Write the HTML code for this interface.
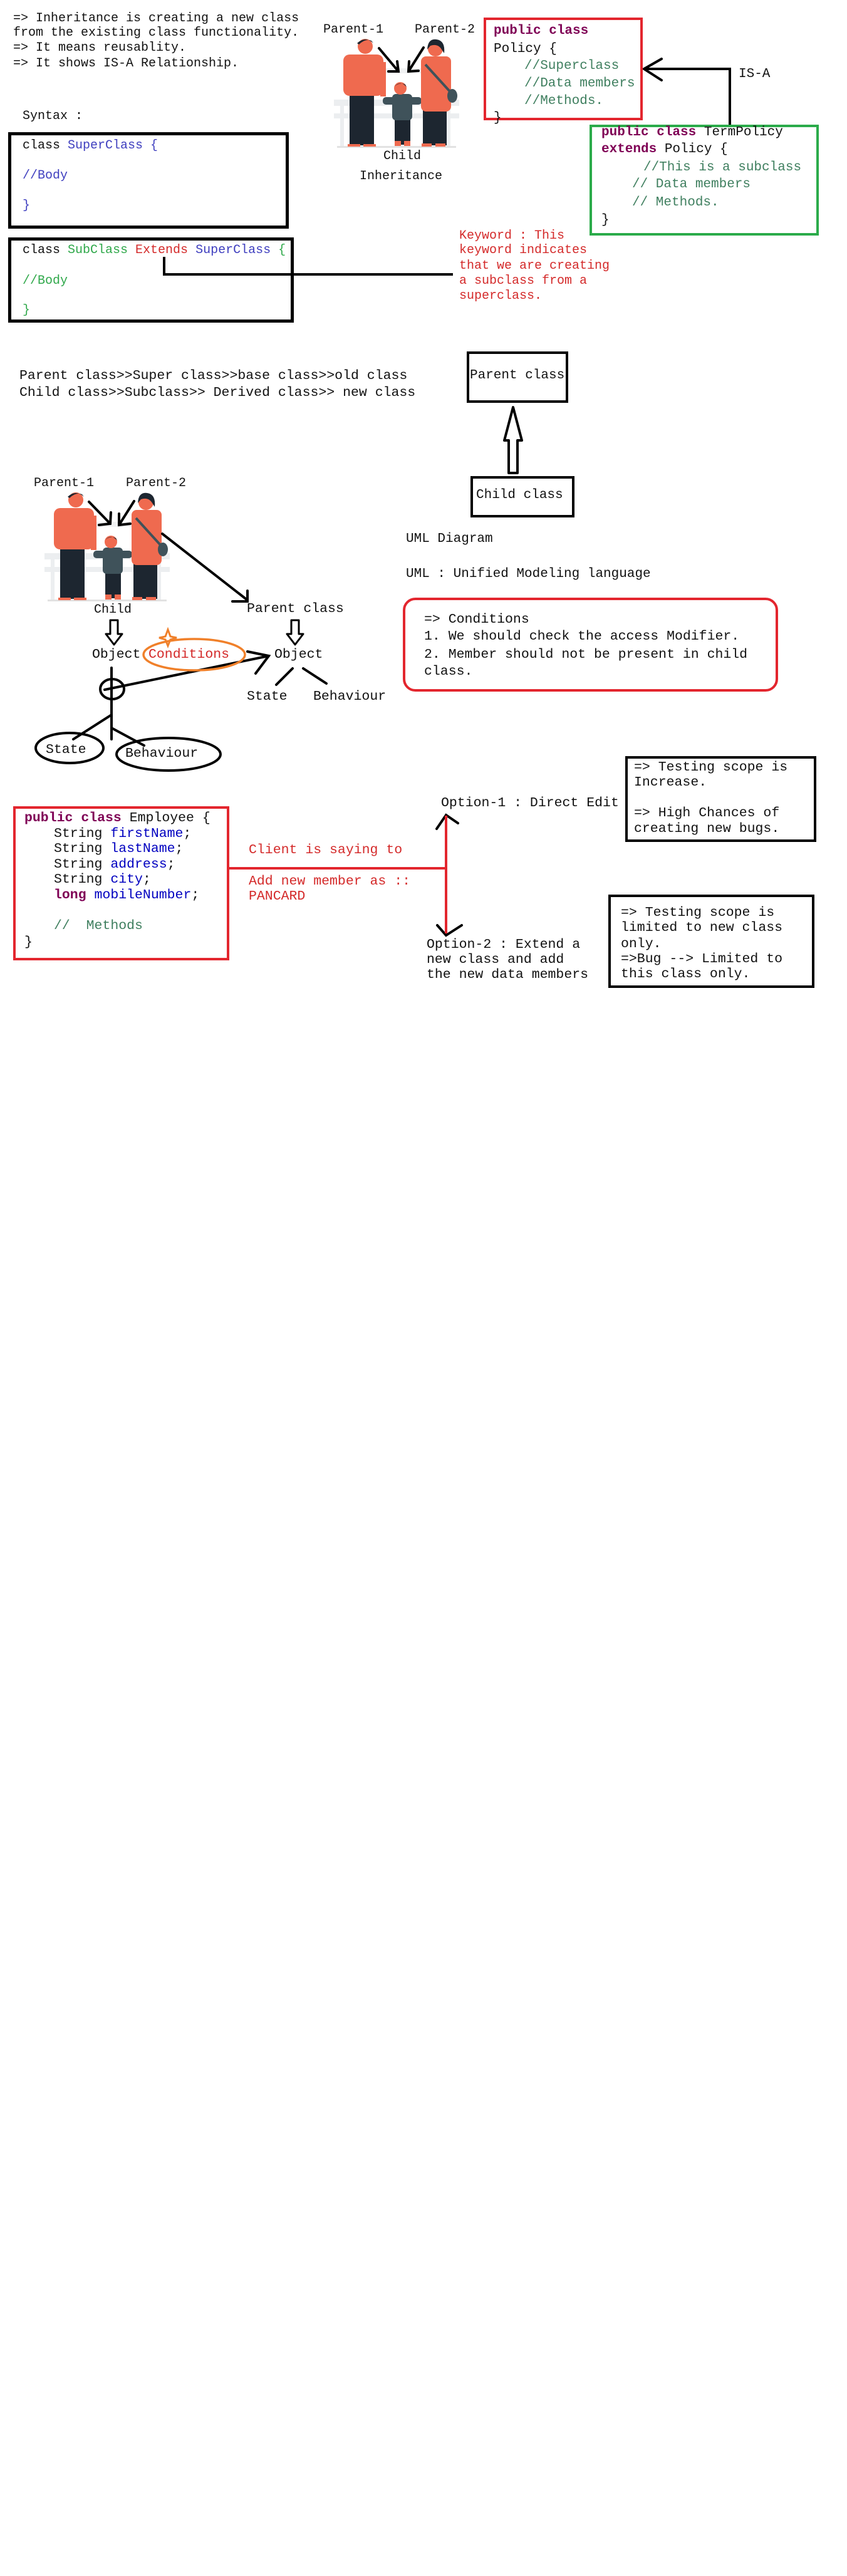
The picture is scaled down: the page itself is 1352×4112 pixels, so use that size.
<!DOCTYPE html>
<html><head><meta charset="utf-8">
<style>
html,body{margin:0;padding:0;background:#fff;}
body{width:1352px;height:4112px;position:relative;overflow:hidden;font-family:"Liberation Mono","DejaVu Sans Mono",monospace;color:#111;}
.t{position:absolute;white-space:pre;line-height:24px;font-size:20px;}
.m{font-size:21.5px;}
.box{position:absolute;box-sizing:border-box;}
.kw{color:#7f0055;font-weight:bold;}
.cm{color:#3f7f5f;}
.bl{color:#3f3fbf;}
.fd{color:#0000c0;}
.rd{color:#d42a2a;}
.gn{color:#2fa84a;}
svg{position:absolute;left:0;top:0;}
</style></head><body>

<svg width="1352" height="1700" viewBox="0 0 1352 1700">
<defs>
<g id="fam">
 <rect x="0" y="100" width="200" height="10" fill="#eceef0"/>
 <rect x="0" y="122" width="200" height="8" fill="#eceef0"/>
 <rect x="10" y="110" width="6" height="64" fill="#eceef0"/>
 <rect x="180" y="110" width="6" height="64" fill="#eceef0"/>
 <rect x="60" y="50" width="80" height="8" fill="#f1f2f3"/>
 <rect x="5" y="174" width="190" height="3" fill="#e2e2e2"/>
 <!-- man -->
 <rect x="25" y="93" width="39" height="80" fill="#1d2630"/>
 <rect x="15" y="28" width="64" height="66" rx="10" fill="#ef6a4f"/>
 <rect x="74" y="40" width="9" height="55" fill="#ef6a4f"/>
 <circle cx="50" cy="15" r="12" fill="#ef6a4f"/>
 <path d="M37 10 Q50 -2 63 10 L60 6 Q50 2 40 12Z" fill="#1d2630"/>
 <rect x="22" y="171" width="20" height="4" fill="#ef6a4f"/><rect x="47" y="171" width="20" height="4" fill="#ef6a4f"/>
 <!-- child -->
 <rect x="97" y="130" width="25" height="42" fill="#1d2630"/>
 <rect x="93" y="91" width="32" height="42" rx="6" fill="#3f525a"/>
 <rect x="78" y="96" width="62" height="12" rx="5" fill="#3f525a"/>
 <circle cx="106" cy="82" r="10" fill="#ef6a4f"/>
 <path d="M96 80 Q106 68 116 80 L114 76 Q106 72 98 78Z" fill="#1d2630"/>
 <rect x="97" y="166" width="10" height="8" fill="#ef6a4f"/><rect x="112" y="166" width="10" height="8" fill="#ef6a4f"/>
 <!-- woman -->
 <rect x="142" y="116" width="38" height="57" fill="#1d2630"/>
 <rect x="139" y="31" width="48" height="88" rx="8" fill="#ef6a4f"/>
 <circle cx="162" cy="19" r="12" fill="#ef6a4f"/>
 <path d="M149 20 Q150 2 164 4 Q178 6 176 26 L172 20 Q166 10 154 14Z" fill="#1d2630"/>
 <line x1="146" y1="44" x2="186" y2="88" stroke="#3f525a" stroke-width="4"/>
 <ellipse cx="189" cy="94" rx="8" ry="11" fill="#3f525a"/>
 <rect x="140" y="170" width="16" height="5" fill="#ef6a4f"/><rect x="162" y="170" width="16" height="5" fill="#ef6a4f"/>
</g>
</defs>

<use href="#fam" x="533" y="59"/>
<use href="#fam" x="71" y="783"/>

<g stroke="#000" stroke-width="4" fill="none" stroke-linecap="round">
 <!-- top image arrows -->
 <line x1="605" y1="77" x2="636" y2="114"/><polyline points="620,114 636,114 634,98"/>
 <line x1="676" y1="76" x2="652" y2="114"/><polyline points="653,98 652,114 668,113"/>
 <!-- extends connector -->
 <polyline points="262,410 262,438 723,438" stroke-linecap="butt"/>
 <!-- IS-A -->
 <polyline points="1165,199 1165,110 1028,110" stroke-linecap="butt"/>
 <polyline points="1056,94 1028,110 1056,128"/>
 <!-- second image arrows -->
 <line x1="142" y1="801" x2="176" y2="836"/><polyline points="158,838 176,836 177,818"/>
 <line x1="214" y1="800" x2="190" y2="838"/><polyline points="190,820 190,838 208,836"/>
 <line x1="259" y1="852" x2="395" y2="958"/><polyline points="371,960 395,960 395,943"/>
 <!-- hollow down arrows -->
 <path d="M176 990 H188 V1012 H195 L182 1029 L169 1012 H176 Z" stroke-width="3" stroke-linejoin="round"/>
 <path d="M465 990 H477 V1012 H484 L471 1029 L458 1012 H465 Z" stroke-width="3" stroke-linejoin="round"/>
 <!-- stick figure -->
 <line x1="178" y1="1066" x2="178" y2="1180"/>
 <ellipse cx="179" cy="1100" rx="19" ry="16"/>
 <line x1="167" y1="1101" x2="429" y2="1047"/>
 <polyline points="395,1040 429,1047 408,1075"/>
 <line x1="178" y1="1141" x2="117" y2="1180"/>
 <line x1="178" y1="1162" x2="230" y2="1190"/>
 <ellipse cx="111" cy="1194" rx="54" ry="24"/>
 <ellipse cx="269" cy="1204" rx="83" ry="26"/>
 <!-- right object branches -->
 <line x1="467" y1="1067" x2="441" y2="1093"/>
 <line x1="484" y1="1067" x2="521" y2="1091"/>
 <!-- UML hollow up arrow -->
 <path d="M819 650 L833 703 H826 V755 H812 V703 H805 Z" stroke-width="4" stroke-linejoin="round"/>
 <!-- option arrowheads -->
 <polyline points="697,1323 712,1301 731,1314"/>
 <polyline points="698,1477 712,1493 737,1477"/>
</g>
<!-- orange ellipse -->
<ellipse cx="310" cy="1045" rx="81" ry="25" fill="none" stroke="#f0802a" stroke-width="3.5"/>
<path d="M268 1005 L272 1016 L282 1018 L272 1021 L268 1031 L264 1021 L254 1018 L264 1016 Z" fill="none" stroke="#f0802a" stroke-width="3"/>
<!-- red connectors -->
<g stroke="#e3262e" stroke-width="4" fill="none">
 <line x1="366" y1="1386" x2="714" y2="1386"/>
 <line x1="712" y1="1302" x2="712" y2="1490"/>
</g>
</svg>

<!-- intro text -->
<div class="t" style="left:21px;top:18px;">=&gt; Inheritance is creating a new class</div>
<div class="t" style="left:21px;top:41px;">from the existing class functionality.</div>
<div class="t" style="left:21px;top:65px;">=&gt; It means reusablity.</div>
<div class="t" style="left:21px;top:90px;">=&gt; It shows IS-A Relationship.</div>

<div class="t" style="left:516px;top:36px;">Parent-1</div>
<div class="t" style="left:662px;top:36px;">Parent-2</div>
<div class="t" style="left:612px;top:238px;">Child</div>
<div class="t" style="left:574px;top:270px;">Inheritance</div>

<div class="t" style="left:36px;top:174px;">Syntax :</div>

<div class="box" style="left:13px;top:211px;width:448px;height:154px;border:5px solid #000;"></div>
<div class="t" style="left:36px;top:221px;">class <span class="bl">SuperClass {</span></div>
<div class="t bl" style="left:36px;top:269px;">//Body</div>
<div class="t bl" style="left:36px;top:317px;">}</div>

<div class="box" style="left:13px;top:379px;width:456px;height:136px;border:5px solid #000;"></div>
<div class="t" style="left:36px;top:388px;">class <span class="gn">SubClass</span> <span class="rd">Extends</span> <span class="bl">SuperClass</span> <span class="gn">{</span></div>
<div class="t gn" style="left:36px;top:437px;">//Body</div>
<div class="t gn" style="left:36px;top:484px;">}</div>

<!-- Policy red box -->
<div class="box" style="left:772px;top:28px;width:254px;height:164px;border:4px solid #e3262e;"></div>
<div class="t" style="left:788px;top:38px;font-size:21px;"><span class="kw">public class</span></div>
<div class="t" style="left:788px;top:67px;font-size:21px;">Policy {</div>
<div class="t cm" style="left:837px;top:94px;font-size:21px;">//Superclass</div>
<div class="t cm" style="left:837px;top:122px;font-size:21px;">//Data members</div>
<div class="t cm" style="left:837px;top:150px;font-size:21px;">//Methods.</div>
<div class="t" style="left:788px;top:177px;font-size:21px;">}</div>
<div class="t" style="left:1179px;top:107px;font-size:21px;">IS-A</div>

<!-- TermPolicy green box -->
<div class="box" style="left:941px;top:199px;width:366px;height:177px;border:4px solid #2bab4a;"></div>
<div class="t" style="left:960px;top:200px;font-size:21px;"><span class="kw">public class</span> TermPolicy</div>
<div class="t" style="left:960px;top:227px;font-size:21px;"><span class="kw">extends</span> Policy {</div>
<div class="t cm" style="left:1027px;top:256px;font-size:21px;">//This is a subclass</div>
<div class="t cm" style="left:1009px;top:283px;font-size:21px;">// Data members</div>
<div class="t cm" style="left:1009px;top:312px;font-size:21px;">// Methods.</div>
<div class="t" style="left:960px;top:340px;font-size:21px;">}</div>

<!-- keyword note -->
<div class="t rd" style="left:733px;top:365px;">Keyword : This</div>
<div class="t rd" style="left:733px;top:388px;">keyword indicates</div>
<div class="t rd" style="left:733px;top:413px;">that we are creating</div>
<div class="t rd" style="left:733px;top:437px;">a subclass from a</div>
<div class="t rd" style="left:733px;top:461px;">superclass.</div>

<!-- parent/child names -->
<div class="t m" style="left:31px;top:588px;">Parent class&gt;&gt;Super class&gt;&gt;base class&gt;&gt;old class</div>
<div class="t m" style="left:31px;top:615px;">Child class&gt;&gt;Subclass&gt;&gt; Derived class&gt;&gt; new class</div>

<!-- UML boxes -->
<div class="box" style="left:745px;top:561px;width:162px;height:82px;border:4px solid #000;"></div>
<div class="t" style="left:750px;top:588px;font-size:21px;">Parent class</div>
<div class="box" style="left:751px;top:760px;width:166px;height:66px;border:4px solid #000;"></div>
<div class="t" style="left:760px;top:779px;font-size:21px;">Child class</div>
<div class="t" style="left:648px;top:849px;font-size:21px;">UML Diagram</div>
<div class="t" style="left:648px;top:905px;font-size:21px;">UML : Unified Modeling language</div>

<div class="box" style="left:643px;top:954px;width:599px;height:150px;border:4px solid #e3262e;border-radius:20px;"></div>
<div class="t m" style="left:677px;top:977px;">=&gt; Conditions</div>
<div class="t m" style="left:677px;top:1004px;">1. We should check the access Modifier.</div>
<div class="t m" style="left:677px;top:1033px;">2. Member should not be present in child</div>
<div class="t m" style="left:677px;top:1060px;">class.</div>

<!-- second diagram labels -->
<div class="t" style="left:54px;top:760px;">Parent-1</div>
<div class="t" style="left:201px;top:760px;">Parent-2</div>
<div class="t" style="left:150px;top:962px;">Child</div>
<div class="t m" style="left:394px;top:960px;">Parent class</div>
<div class="t m" style="left:147px;top:1033px;">Object</div>
<div class="t m rd" style="left:237px;top:1033px;">Conditions</div>
<div class="t m" style="left:438px;top:1033px;">Object</div>
<div class="t m" style="left:394px;top:1100px;">State</div>
<div class="t m" style="left:500px;top:1100px;">Behaviour</div>
<div class="t m" style="left:73px;top:1185px;">State</div>
<div class="t m" style="left:200px;top:1191px;">Behaviour</div>

<!-- Employee -->
<div class="box" style="left:21px;top:1287px;width:345px;height:246px;border:4px solid #e3262e;"></div>
<div class="t m" style="left:39px;top:1294px;"><span class="kw">public class</span> Employee {</div>
<div class="t m" style="left:86px;top:1319px;">String <span class="fd">firstName</span>;</div>
<div class="t m" style="left:86px;top:1343px;">String <span class="fd">lastName</span>;</div>
<div class="t m" style="left:86px;top:1368px;">String <span class="fd">address</span>;</div>
<div class="t m" style="left:86px;top:1392px;">String <span class="fd">city</span>;</div>
<div class="t m" style="left:86px;top:1417px;"><span class="kw">long</span> <span class="fd">mobileNumber</span>;</div>
<div class="t m cm" style="left:86px;top:1466px;">//  Methods</div>
<div class="t m" style="left:39px;top:1492px;">}</div>

<div class="t m rd" style="left:397px;top:1345px;">Client is saying to</div>
<div class="t m rd" style="left:397px;top:1395px;">Add new member as ::</div>
<div class="t m rd" style="left:397px;top:1419px;">PANCARD</div>

<div class="t m" style="left:704px;top:1270px;">Option-1 : Direct Edit</div>
<div class="box" style="left:998px;top:1207px;width:305px;height:137px;border:4px solid #000;"></div>
<div class="t m" style="left:1012px;top:1213px;">=&gt; Testing scope is</div>
<div class="t m" style="left:1012px;top:1237px;">Increase.</div>
<div class="t m" style="left:1012px;top:1286px;">=&gt; High Chances of</div>
<div class="t m" style="left:1012px;top:1311px;">creating new bugs.</div>

<div class="t m" style="left:681px;top:1496px;">Option-2 : Extend a</div>
<div class="t m" style="left:681px;top:1520px;">new class and add</div>
<div class="t m" style="left:681px;top:1544px;">the new data members</div>
<div class="box" style="left:971px;top:1428px;width:329px;height:149px;border:4px solid #000;"></div>
<div class="t m" style="left:991px;top:1445px;">=&gt; Testing scope is</div>
<div class="t m" style="left:991px;top:1469px;">limited to new class</div>
<div class="t m" style="left:991px;top:1495px;">only.</div>
<div class="t m" style="left:991px;top:1519px;">=&gt;Bug --&gt; Limited to</div>
<div class="t m" style="left:991px;top:1543px;">this class only.</div>

</body></html>
